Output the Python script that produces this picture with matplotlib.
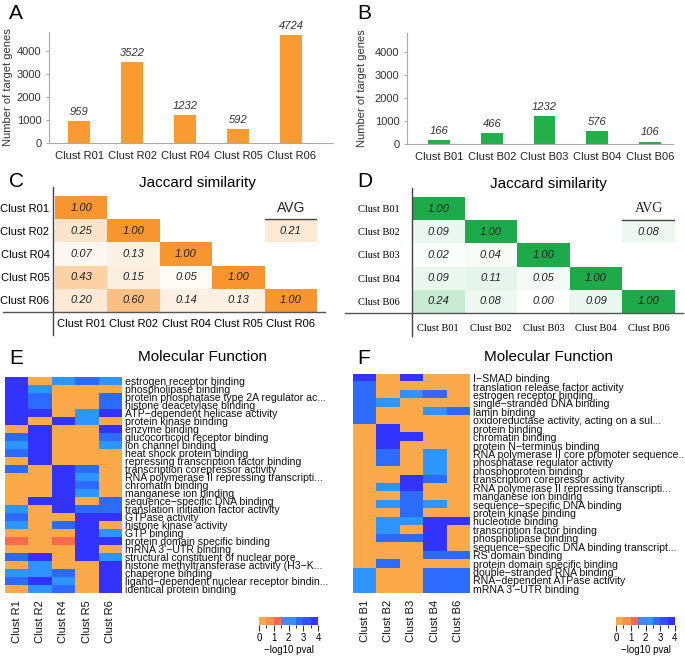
import numpy as np
import matplotlib
matplotlib.use("Agg")
import matplotlib.pyplot as plt
from matplotlib.colors import ListedColormap, BoundaryNorm, LinearSegmentedColormap
from matplotlib.cm import ScalarMappable

plt.rcParams['font.family'] = ['Liberation Sans', 'DejaVu Sans']

################################################################################
# data

r_clusters = ["Clust R01", "Clust R02", "Clust R04", "Clust R05", "Clust R06"]
r_counts = [959, 3522, 1232, 592, 4724]

b_clusters = ["Clust B01", "Clust B02", "Clust B03", "Clust B04", "Clust B06"]
b_counts = [166, 466, 1232, 576, 106]

nan = np.nan
r_jaccard = [[1.00, nan, nan, nan, nan],
             [0.25, 1.00, nan, nan, nan],
             [0.07, 0.13, 1.00, nan, nan],
             [0.43, 0.15, 0.05, 1.00, nan],
             [0.20, 0.60, 0.14, 0.13, 1.00]]
r_avg = 0.21

b_jaccard = [[1.00, nan, nan, nan, nan],
             [0.09, 1.00, nan, nan, nan],
             [0.02, 0.04, 1.00, nan, nan],
             [0.09, 0.11, 0.05, 1.00, nan],
             [0.24, 0.08, 0.00, 0.09, 1.00]]
b_avg = 0.08

e_cols = ["Clust R1", "Clust R2", "Clust R4", "Clust R5", "Clust R6"]
e_terms = ["estrogen receptor binding",
           "phospholipase binding",
           "protein phosphatase type 2A regulator ac...",
           "histone deacetylase binding",
           "ATP−dependent helicase activity",
           "protein kinase binding",
           "enzyme binding",
           "glucocorticoid receptor binding",
           "ion channel binding",
           "heat shock protein binding",
           "repressing transcription factor binding",
           "transcription corepressor activity",
           "RNA polymerase II repressing transcripti...",
           "chromatin binding",
           "manganese ion binding",
           "sequence−specific DNA binding",
           "translation initiation factor activity",
           "GTPase activity",
           "histone kinase activity",
           "GTP binding",
           "protein domain specific binding",
           "mRNA 3'−UTR binding",
           "structural constituent of nuclear pore",
           "histone methyltransferase activity (H3−K...",
           "chaperone binding",
           "ligand−dependent nuclear receptor bindin...",
           "identical protein binding"]
# -log10 pval
e_pval = [[3.8, 0.2, 2.2, 2.8, 2.2],
          [3.8, 2.2, 0.2, 0.2, 0.2],
          [3.8, 2.8, 0.2, 0.2, 2.8],
          [3.8, 2.8, 0.2, 0.2, 2.8],
          [3.8, 3.8, 0.2, 2.2, 3.8],
          [3.8, 0.2, 3.8, 2.2, 0.2],
          [0.2, 3.8, 0.2, 0.2, 3.8],
          [2.8, 3.8, 0.2, 0.2, 2.8],
          [2.2, 3.8, 0.2, 0.2, 2.2],
          [2.8, 3.8, 0.2, 0.2, 0.2],
          [0.2, 3.8, 0.2, 0.2, 0.2],
          [2.8, 0.2, 3.8, 2.8, 0.2],
          [0.2, 0.2, 3.8, 2.2, 0.2],
          [0.2, 0.2, 3.8, 2.8, 0.2],
          [0.2, 0.2, 3.8, 2.2, 0.2],
          [0.2, 3.8, 3.8, 0.2, 2.8],
          [2.2, 0.2, 3.8, 2.8, 2.8],
          [2.8, 0.2, 0.2, 3.8, 3.8],
          [2.2, 0.2, 2.8, 3.8, 0.2],
          [0.2, 0.2, 0.2, 3.8, 2.2],
          [1.3, 0.2, 1.3, 3.8, 3.8],
          [0.2, 0.2, 0.2, 3.8, 0.2],
          [2.8, 3.8, 0.2, 3.8, 2.2],
          [0.2, 2.2, 0.2, 0.2, 3.8],
          [2.2, 2.2, 2.8, 0.2, 3.8],
          [2.8, 3.8, 2.2, 0.2, 3.8],
          [0.2, 2.2, 2.8, 0.2, 3.8]]

f_cols = ["Clust B1", "Clust B2", "Clust B3", "Clust B4", "Clust B6"]
f_terms = ["I−SMAD binding",
           "translation release factor activity",
           "estrogen receptor binding",
           "single−stranded DNA binding",
           "lamin binding",
           "oxidoreductase activity, acting on a sul...",
           "protein binding",
           "chromatin binding",
           "protein N−terminus binding",
           "RNA polymerase II core promoter sequence..",
           "phosphatase regulator activity",
           "phosphoprotein binding",
           "transcription corepressor activity",
           "RNA polymerase II repressing transcripti...",
           "manganese ion binding",
           "sequence−specific DNA binding",
           "protein kinase binding",
           "nucleotide binding",
           "transcription factor binding",
           "phospholipase binding",
           "sequence−specific DNA binding transcript...",
           "RS domain binding",
           "protein domain specific binding",
           "double−stranded RNA binding",
           "RNA−dependent ATPase activity",
           "mRNA 3'−UTR binding"]
f_pval = [[3.8, 0.2, 3.8, 0.2, 0.2],
          [2.8, 0.2, 0.2, 0.2, 0.2],
          [2.8, 0.2, 2.2, 2.8, 0.2],
          [2.8, 2.2, 0.2, 0.2, 0.2],
          [2.8, 0.2, 0.2, 2.2, 2.8],
          [2.8, 0.2, 0.2, 0.2, 0.2],
          [0.2, 3.8, 0.2, 0.2, 0.2],
          [0.2, 3.8, 3.8, 0.2, 0.2],
          [0.2, 3.8, 0.2, 0.2, 0.2],
          [0.2, 2.8, 0.2, 2.2, 0.2],
          [0.2, 2.8, 0.2, 2.2, 0.2],
          [0.2, 0.2, 0.2, 2.2, 0.2],
          [0.2, 0.2, 3.8, 2.8, 0.2],
          [0.2, 2.2, 3.8, 0.2, 0.2],
          [0.2, 0.2, 2.8, 0.2, 0.2],
          [0.2, 2.2, 2.8, 2.2, 0.2],
          [0.2, 0.2, 2.8, 0.2, 0.2],
          [0.2, 2.2, 2.2, 3.8, 3.8],
          [0.2, 2.2, 0.2, 3.8, 0.2],
          [0.2, 2.8, 2.8, 3.8, 0.2],
          [0.2, 0.2, 0.2, 3.8, 0.2],
          [0.2, 0.2, 0.2, 2.8, 2.8],
          [0.2, 2.8, 0.2, 0.2, 0.2],
          [2.2, 0.2, 0.2, 2.8, 2.8],
          [2.2, 0.2, 0.2, 2.8, 2.8],
          [2.2, 0.2, 0.2, 2.8, 2.8]]

################################################################################

W, H = 685, 660
fig = plt.figure(figsize=(W/100.0, H/100.0), dpi=100)

def px_axes(x, y, w, h):
    return fig.add_axes([x/W, 1-(y+h)/H, w/W, h/H])

def letter(x, y, s):
    fig.text(x/W, 1-y/H, s, fontsize=15, ha='left', va='top')


def bar_panel(ax, labels, counts, color, xlim, ylab_x):
    x = np.arange(len(labels))
    ax.bar(x, counts, width=0.41, color=color)
    for xi, c in zip(x, counts):
        ax.annotate(str(c), (xi, c), xytext=(0, 3), textcoords='offset points',
                    ha='center', va='bottom', fontsize=8, style='italic', color='#333333')
    ax.set_xticks(x, labels, fontsize=8)
    ax.set_ylim(0, 4850)
    ax.set_yticks([0, 1000, 2000, 3000, 4000])
    ax.set_xlim(xlim)
    ax.spines['top'].set_visible(False)
    ax.spines['right'].set_visible(False)
    ax.spines['left'].set_color('#aaaaaa')
    ax.spines['bottom'].set_color('#aaaaaa')
    ax.tick_params(axis='y', length=2, color='#aaaaaa', labelsize=8, labelcolor='#333333')
    ax.tick_params(axis='x', length=0, pad=6, labelcolor='#222222')
    ax.set_ylabel("Number of target genes", fontsize=8, color='#333333')
    ax.yaxis.set_label_coords(ylab_x, 0.5)


ax = px_axes(49, 32, 284, 111)
bar_panel(ax, r_clusters, r_counts, '#F99A33', (-0.57, 4.79), -0.127)
letter(9, 4, "A")

ax = px_axes(407, 33, 266, 111)
bar_panel(ax, b_clusters, b_counts, '#22B04B', (-0.61, 4.44), -0.150)
letter(357, 4, "B")

################################################################################

def jaccard_panel(ax, mat, avg, labels, top_color, serif, vline_x, hline_x):
    mat = np.array(mat)
    n = len(labels)
    # the AVG cell sits in the column of the last cluster, second row
    grid = mat.copy()
    grid[1, n-1] = avg
    cmap = LinearSegmentedColormap.from_list('w', ['#ffffff', top_color])
    ax.imshow(np.ma.masked_invalid(grid), cmap=cmap, vmin=0, vmax=1, aspect='auto')
    for i in range(n):
        for j in range(n):
            if not np.isnan(grid[i, j]):
                ax.text(j, i, "%.2f" % grid[i, j], ha='center', va='center',
                        fontsize=8, style='italic', color='#222222')

    ax.text(n-1, 0, "AVG", ha='center', va='center', fontsize=10,
            family='Liberation Serif' if serif else 'Liberation Sans', color='#222222')
    ax.plot([n-1.5, n-0.5], [0.5, 0.5], color='#444444', lw=1)

    ax.set_xticks(range(n), labels)
    ax.set_yticks(range(n), labels)
    ax.tick_params(length=0, labelsize=7.5 if serif else 8)
    if serif:
        for t in ax.get_xticklabels() + ax.get_yticklabels():
            t.set_family('Liberation Serif')
        ax.tick_params(axis='y', pad=9)
        ax.tick_params(axis='x', pad=8)
    else:
        ax.tick_params(axis='y', pad=4)
        ax.tick_params(axis='x', pad=5)
    for s in ax.spines.values():
        s.set_visible(False)
    ax.set_xlim(-0.5, n-0.5)
    ax.set_ylim(n-0.5, -0.5)
    ax.plot([vline_x, vline_x], [-0.2, 1.08], transform=ax.transAxes,
            clip_on=False, color='#444444', lw=1)
    ax.plot(hline_x, [0, 0], transform=ax.transAxes, clip_on=False,
            color='#555555', lw=1)


ax = px_axes(55, 196, 262, 116)
jaccard_panel(ax, r_jaccard, r_avg, r_clusters, '#F7952F', False, -0.008, [-0.2, 1.03])
fig.text(197/W, 1-183/H, "Jaccard similarity", fontsize=11, ha='center', va='center')
letter(9, 172, "C")

ax = px_axes(412, 197, 263, 116)
jaccard_panel(ax, b_jaccard, b_avg, b_clusters, '#1EA94B', True, 0.0, [-0.255, 1.03])
fig.text(548/W, 1-184/H, "Jaccard similarity", fontsize=11, ha='center', va='center')
letter(357, 172, "D")

################################################################################

pval_colors = ['#FBA94A', '#FA9348', '#F86A4C', '#4A86F0',
               '#2E94FE', '#2D6BFE', '#3350FE', '#3333FE']
pval_cmap = ListedColormap(pval_colors)
pval_norm = BoundaryNorm(np.arange(0, 4.01, 0.5), pval_cmap.N)


def go_heatmap(ax, vals, terms, cols):
    ax.imshow(np.array(vals), cmap=pval_cmap, norm=pval_norm, aspect='auto',
              interpolation='nearest')
    ax.set_yticks(range(len(terms)), terms, fontsize=7.6)
    ax.yaxis.tick_right()
    ax.set_xticks(range(len(cols)), cols, rotation=90, fontsize=8)
    ax.tick_params(length=0, pad=2, labelcolor='#111111')
    ax.tick_params(axis='x', pad=5)
    for s in ax.spines.values():
        s.set_visible(False)


def pval_colorbar(x, y):
    cax = px_axes(x, y, 59, 8)
    cb = fig.colorbar(ScalarMappable(norm=pval_norm, cmap=pval_cmap), cax=cax,
                      orientation='horizontal', ticks=[0, 1, 2, 3, 4])
    cb.outline.set_visible(False)
    cax.tick_params(length=4, width=0.8, color='#333333', labelsize=7, pad=2)
    cax.set_xticklabels(['0', '1', '2', '3', '4'])
    cax.set_xlabel("−log10 pval", fontsize=7, labelpad=1)


ax = px_axes(5, 377, 117, 216)
go_heatmap(ax, e_pval, e_terms, e_cols)
fig.text(202/W, 1-357/H, "Molecular Function", fontsize=11, ha='center', va='center')
letter(9, 349, "E")
pval_colorbar(259, 617)

ax = px_axes(353, 374, 117, 219)
go_heatmap(ax, f_pval, f_terms, f_cols)
fig.text(548/W, 1-357/H, "Molecular Function", fontsize=11, ha='center', va='center')
letter(357, 349, "F")
pval_colorbar(616, 617)

fig.savefig("out.png", dpi=100)
